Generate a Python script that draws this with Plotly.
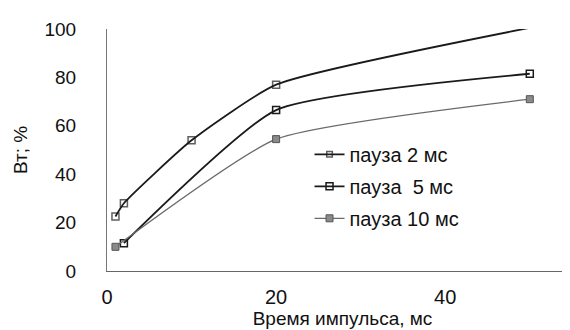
import plotly.graph_objects as go

# data
x_p2 = [1, 2, 10, 20, 50]
y_p2 = [22.5, 28, 54, 77, 100.5]
x_p5 = [2, 20, 50]
y_p5 = [11.5, 66.5, 81.5]
x_p10 = [1, 20, 50]
y_p10 = [10, 54.5, 71]
names = ["пауза 2 мс", "пауза  5 мс", "пауза 10 мс"]
x_ticks = [0, 20, 40]
y_ticks = [0, 20, 40, 60, 80, 100]

FONT = "Liberation Sans, Arial, sans-serif"

fig = go.Figure()
fig.add_trace(go.Scatter(
    x=x_p2, y=y_p2, name=names[0], mode="lines+markers",
    line=dict(color="#1a1a1a", width=1.8, shape="spline", smoothing=0.5),
    marker=dict(symbol="square-open", size=[7, 7, 7, 7, 0], color="#1a1a1a",
                line=dict(width=1.5)),
    cliponaxis=False, legendgroup="a"))
fig.add_trace(go.Scatter(
    x=x_p5, y=y_p5, name=names[1], mode="lines+markers",
    line=dict(color="#1a1a1a", width=1.8, shape="spline", smoothing=0.5),
    marker=dict(symbol="square-open", size=7, color="#1a1a1a",
                line=dict(width=1.5)),
    cliponaxis=False, legendgroup="b"))
fig.add_trace(go.Scatter(
    x=x_p10, y=y_p10, name=names[2], mode="lines+markers",
    line=dict(color="#6a6a6a", width=1.3, shape="spline", smoothing=0.5),
    marker=dict(symbol="square", size=7, color="#8a8a8a",
                line=dict(width=1, color="#555555")),
    cliponaxis=False, legendgroup="c"))

fig.update_layout(
    width=570, height=330,
    margin=dict(l=99, r=0, t=21, b=67),
    paper_bgcolor="white", plot_bgcolor="white",
    font=dict(family=FONT, color="#111111"),
    showlegend=True,
    legend=dict(x=0.43, y=0.35, xanchor="left", yanchor="middle",
                font=dict(size=20, family=FONT), bgcolor="rgba(0,0,0,0)",
                traceorder="grouped", tracegroupgap=3, itemwidth=30),
    xaxis=dict(range=[0, 55.7], tickvals=x_ticks, showgrid=False, zeroline=False,
               showline=True, linecolor="#666666", linewidth=1,
               ticks="", tickfont=dict(size=20), ticklabelstandoff=8,
               title=dict(text="Время импульса, мс", font=dict(size=19), standoff=0)),
    yaxis=dict(range=[0, 100], tickvals=y_ticks, showgrid=False, zeroline=False,
               showline=True, linecolor="#777777", linewidth=1,
               ticks="", tickfont=dict(size=19), ticklabelstandoff=26,
               title=dict(text="Вт; %", font=dict(size=19), standoff=11)),
)

fig.write_html("out.html")
